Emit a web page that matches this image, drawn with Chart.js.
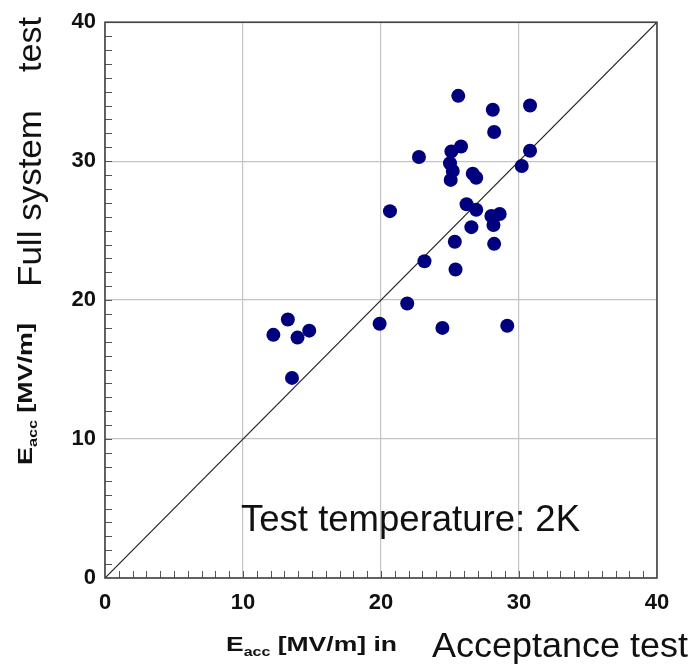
<!DOCTYPE html>
<html>
<head>
<meta charset="utf-8">
<script src="https://cdn.jsdelivr.net/npm/chart.js@4/dist/chart.umd.min.js"></script>
<style>
  html, body { margin: 0; padding: 0; background: #fff; }
  #wrap { width: 692px; height: 668px; }
</style>
</head>
<body>
<div id="wrap"><canvas id="chart" width="692" height="668"></canvas></div>
<script>
// Eacc [MV/m]: acceptance test (x) vs full system test (y), one point per cavity
const acceptance = [25.6, 28.1, 30.8, 28.2, 25.8, 25.1, 22.75, 30.8, 30.2, 25.0, 25.2, 25.05,
                    26.65, 26.9, 26.2, 26.9, 20.65, 28.0, 28.6, 28.15, 26.55, 25.35, 28.2, 23.15,
                    25.4, 21.9, 19.9, 24.45, 29.15, 13.25, 12.2, 13.95, 14.8, 13.55];
const fullSystem = [34.7, 33.7, 34.0, 32.1, 31.05, 30.7, 30.3, 30.75, 29.65, 29.85, 29.3, 28.65,
                    29.1, 28.8, 26.9, 26.5, 26.4, 26.05, 26.2, 25.4, 25.25, 24.2, 24.05, 22.8,
                    22.2, 19.75, 18.3, 18.0, 18.15, 18.6, 17.5, 17.3, 17.8, 14.4];
const axisRange = [0, 40];
const majorStep = 10;
const diagonal = [0, 40];

const FONT = '"Liberation Sans", Arial, sans-serif';
const TICK_FONT = '"Liberation Sans Narrow", "Liberation Sans", Arial, sans-serif';

// draw text pieces (with sub-scripts) squeezed/stretched to a given length
function fitText(ctx, parts, x, y, length, angle) {
  ctx.save();
  let total = 0;
  parts.forEach(p => {
    ctx.font = (p.bold ? 'bold ' : '') + p.size + 'px ' + FONT;
    p.w = ctx.measureText(p.t).width;
    total += p.w;
  });
  ctx.translate(x, y);
  ctx.rotate(angle || 0);
  ctx.scale(length / total, 1);
  ctx.fillStyle = '#111';
  ctx.textBaseline = 'alphabetic';
  let cx = 0;
  parts.forEach(p => {
    ctx.font = (p.bold ? 'bold ' : '') + p.size + 'px ' + FONT;
    ctx.fillText(p.t, cx, p.dy || 0);
    cx += p.w;
  });
  ctx.restore();
}

const framePlugin = {
  id: 'frame',
  afterDraw(chart) {
    const { ctx, chartArea: a, scales: { x, y } } = chart;
    ctx.save();
    // minor ticks, inside the frame
    ctx.strokeStyle = '#555';
    ctx.lineWidth = 1;
    for (let v = axisRange[0] + 1; v < axisRange[1]; v++) {
      const px = Math.round(x.getPixelForValue(v)) + 0.5;
      const py = Math.round(y.getPixelForValue(v)) + 0.5;
      ctx.beginPath(); ctx.moveTo(px, a.bottom); ctx.lineTo(px, a.bottom - 7); ctx.stroke();
      ctx.beginPath(); ctx.moveTo(a.left, py); ctx.lineTo(a.left + 7, py); ctx.stroke();
    }
    ctx.strokeStyle = '#444';
    ctx.lineWidth = 1.6;
    ctx.strokeRect(a.left, a.top, a.right - a.left, a.bottom - a.top);
    ctx.restore();

    // annotation
    fitText(ctx, [{ t: 'Test temperature: 2K', size: 36 }], 241, 531, 339);

    // x title
    fitText(ctx, [
      { t: 'E', size: 20, bold: true },
      { t: 'acc', size: 12, bold: true, dy: 5 },
      { t: ' [MV/m] in', size: 20, bold: true }
    ], 226, 651, 171);
    fitText(ctx, [{ t: 'Acceptance test', size: 35 }], 432, 657, 256);

    // y title
    fitText(ctx, [
      { t: 'E', size: 20, bold: true },
      { t: 'acc', size: 12, bold: true, dy: 5 },
      { t: ' [MV/m]', size: 20, bold: true }
    ], 32, 465, 142, -Math.PI / 2);
    fitText(ctx, [{ t: 'Full system', size: 34 }], 41, 287, 177, -Math.PI / 2);
    fitText(ctx, [{ t: 'test', size: 34 }], 41, 72, 55, -Math.PI / 2);
  }
};

const gridStyle = {
  color: '#c4c4c4',
  lineWidth: 1.2,
  drawTicks: false
};

new Chart(document.getElementById('chart'), {
  type: 'scatter',
  data: {
    datasets: [
      {
        label: 'Cavities',
        data: acceptance.map((v, i) => ({ x: v, y: fullSystem[i] })),
        backgroundColor: '#00007f',
        borderColor: '#00007f',
        borderWidth: 0,
        pointRadius: 7,
        order: 0
      },
      {
        label: 'y = x',
        data: diagonal.map(v => ({ x: v, y: v })),
        showLine: true,
        borderColor: '#222',
        borderWidth: 1.2,
        pointRadius: 0,
        order: 1
      }
    ]
  },
  options: {
    responsive: false,
    animation: false,
    layout: { padding: { left: 0, top: 18, right: 35, bottom: 0 } },
    plugins: { legend: { display: false }, tooltip: { enabled: false } },
    scales: {
      x: {
        min: axisRange[0], max: axisRange[1],
        grid: gridStyle,
        border: { display: false },
        ticks: { stepSize: majorStep, padding: 12, color: '#111', font: { family: TICK_FONT, size: 22, weight: 'bold' } },
        afterFit(s) { s.height = 90; }
      },
      y: {
        min: axisRange[0], max: axisRange[1],
        grid: gridStyle,
        border: { display: false },
        ticks: { stepSize: majorStep, padding: 9, color: '#111', font: { family: TICK_FONT, size: 22, weight: 'bold' } },
        afterFit(s) { s.width = 105; }
      }
    }
  },
  plugins: [framePlugin]
});
</script>
</body>
</html>
